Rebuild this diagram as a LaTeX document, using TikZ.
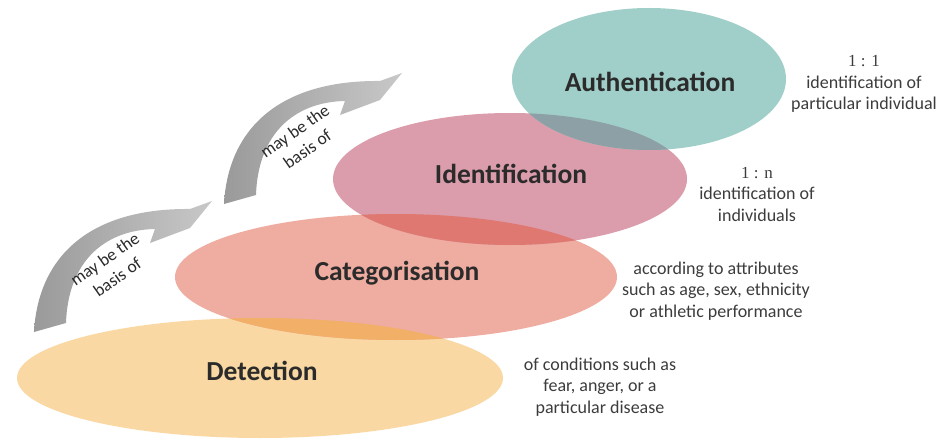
\documentclass[tikz,border=0pt]{standalone}
\usepackage{fontspec}
\setmainfont{Carlito}
\newfontfamily\ratiofont{Liberation Serif}
\definecolor{detcol}{HTML}{FAD8A3}
\definecolor{catcol}{HTML}{EFACA0}
\definecolor{detcat}{HTML}{F1AF68}
\definecolor{idcol}{HTML}{DB9DAC}
\definecolor{catid}{HTML}{DE7870}
\definecolor{authcol}{HTML}{A0CEC8}
\definecolor{idauth}{HTML}{8CA0A5}
\definecolor{arrdark}{HTML}{9A9A9A}
\definecolor{arrlight}{HTML}{C8C8C8}
\definecolor{labtext}{HTML}{2B2B2B}
\definecolor{sidetext}{HTML}{3C3C3C}
\tikzset{
  biglabel/.style={font=\fontsize{27.5}{30}\selectfont\bfseries, text=labtext, inner sep=0pt},
  sidenote/.style={font=\fontsize{18}{21.5}\selectfont, text=sidetext, align=center, inner sep=0pt},
  arrowtext/.style={font=\fontsize{17.5}{22}\selectfont, text=labtext, align=center, inner sep=0pt, rotate=35},
  pics/curvedarrow/.style={code={
    \shade[left color=arrdark, right color=arrlight]
      (34,332) .. controls (38,258) and (88,208) .. (190,209)
      -- (212,201) -- (190,228) -- (150,243) -- (155,229)
      .. controls (104,230) and (68,262) .. (66,323) -- cycle;
  }}
}
\begin{document}
\begin{tikzpicture}[x=1pt,y=-1pt]
\useasboundingbox (0,0) rectangle (951,441);
% ellipses
\fill[detcol] (260,378) ellipse [x radius=243pt, y radius=60pt];
\fill[catcol] (396,277) ellipse [x radius=221pt, y radius=63pt];
\fill[idcol] (510,179) ellipse [x radius=177pt, y radius=66pt];
\fill[authcol] (649,79) ellipse [x radius=137pt, y radius=71pt];
% overlaps
\begin{scope}
  \clip (260,378) ellipse [x radius=243pt, y radius=60pt];
  \fill[detcat] (396,277) ellipse [x radius=221pt, y radius=63pt];
\end{scope}
\begin{scope}
  \clip (396,277) ellipse [x radius=221pt, y radius=63pt];
  \fill[catid] (510,179) ellipse [x radius=177pt, y radius=66pt];
\end{scope}
\begin{scope}
  \clip (510,179) ellipse [x radius=177pt, y radius=66pt];
  \fill[idauth] (649,79) ellipse [x radius=137pt, y radius=71pt];
\end{scope}
% curved arrows
\pic at (0,0) {curvedarrow};
\pic at (190,-128) {curvedarrow};
\node[arrowtext] (t1) at (111,268) {may be the\\basis of};
\node[arrowtext] (t2) at (301,140) {may be the\\basis of};
% labels
\node[biglabel] (auth) at (650,82) {Authentication};
\node[biglabel] (ident) at (511,174) {Identification};
\node[biglabel] (categ) at (397,273) {Categorisation};
\node[biglabel] (detect) at (262,371) {Detection};
% side notes
\node[sidenote] (n1) at (864,84) {{\ratiofont\fontsize{17}{21.5}\selectfont 1 : 1}\\identification of\\particular individual};
\node[sidenote] (n2) at (757,194) {{\ratiofont\fontsize{17}{21.5}\selectfont 1 : n}\\identification of\\individuals};
\node[sidenote] (n3) at (716,291) {according to attributes\\such as age, sex, ethnicity\\or athletic performance};
\node[sidenote] (n4) at (600,387) {of conditions such as\\fear, anger, or a\\particular disease};
\end{tikzpicture}
\end{document}
